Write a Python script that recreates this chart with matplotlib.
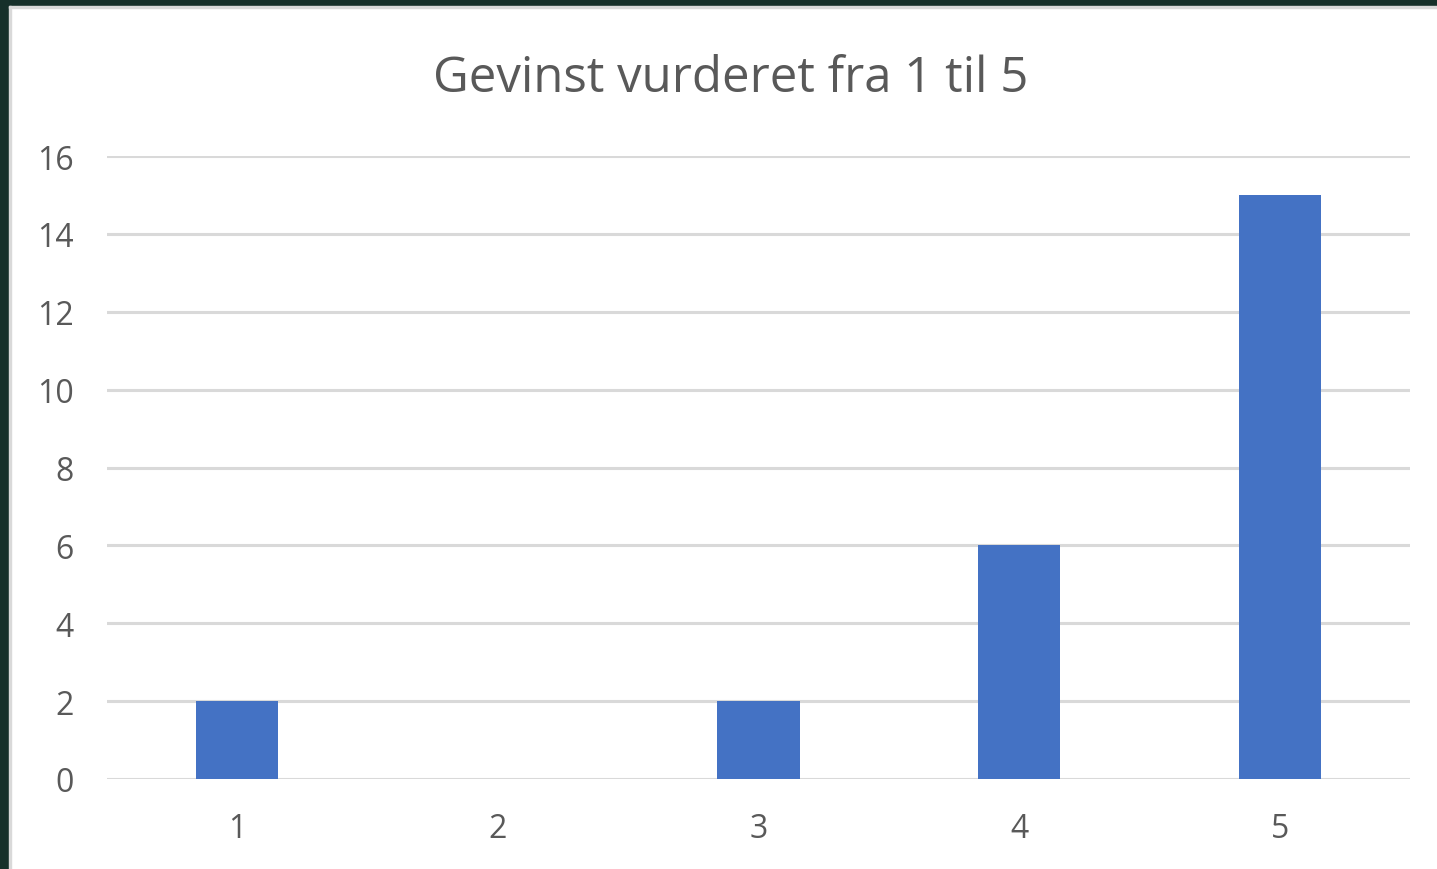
import matplotlib
matplotlib.use("Agg")
import matplotlib.pyplot as plt
from matplotlib.patches import Rectangle

categories = ["1", "2", "3", "4", "5"]
values = [2, 0, 2, 6, 15]
yticks = [0, 2, 4, 6, 8, 10, 12, 14, 16]
title = "Gevinst vurderet fra 1 til 5"

plt.rcParams['font.family'] = ['Open Sans', 'DejaVu Sans']
text_color = "#595959"
W, H = 1437, 870
fig = plt.figure(figsize=(W / 100, H / 100), dpi=100)
fig.patch.set_facecolor("white")

# dark frame on left and top
fig.patches.append(Rectangle((0, 0), 9 / W, 1, transform=fig.transFigure, color="#16302A", zorder=0))
fig.patches.append(Rectangle((0, 1 - 7 / H), 1, 7 / H, transform=fig.transFigure, color="#16302A", zorder=0))
fig.patches.append(Rectangle((9 / W, 0), 2 / W, 1 - 7 / H, transform=fig.transFigure, color="#D9D9D9", zorder=0))
fig.patches.append(Rectangle((9 / W, 1 - 9 / H), 1, 2 / H, transform=fig.transFigure, color="#D9D9D9", zorder=0))

ax = fig.add_axes([107 / W, 1 - 780 / H, (1410 - 107) / W, (780 - 157) / H])
x = list(range(1, len(categories) + 1))
ax.bar(x, values, width=0.315, color="#4472C4", zorder=3)
ax.set_xlim(0.5, len(categories) + 0.5)
ax.set_ylim(0, 16)
ax.set_yticks(yticks)
ax.set_xticks(x)
ax.set_xticklabels(categories)
ax.grid(axis="y", color="#D9D9D9", linewidth=2.2, zorder=0)
ax.set_axisbelow(True)
for s in ax.spines.values():
    s.set_visible(False)
ax.tick_params(axis="both", length=0, labelsize=23, colors=text_color)
ax.tick_params(axis="y", pad=24)
ax.tick_params(axis="x", pad=24)
fig.text(731 / W, 1 - 79 / H, title, ha="center", va="center",
         fontsize=35.4, color=text_color)
fig.savefig("out.png", dpi=100)
